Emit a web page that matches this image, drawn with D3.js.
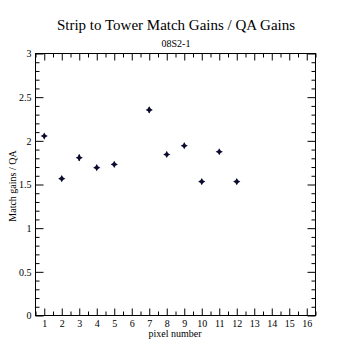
<!DOCTYPE html>
<html><head><meta charset="utf-8">
<script src="https://cdn.jsdelivr.net/npm/d3@7"></script>
<style>body{margin:0;background:#fff}svg{display:block}text{font-family:'Liberation Serif','Times New Roman','DejaVu Serif',serif}</style>
</head><body>
<svg id="c" width="350" height="350"></svg>
<script>
const pixels = [1,2,3,4,5,7,8,9,10,11,12];
const values = [2.055,1.567,1.807,1.693,1.730,2.354,1.844,1.944,1.533,1.875,1.533];
const errors = [0.01,0.01,0.035,0.01,0.01,0.03,0.01,0.01,0.01,0.01,0.01];
const xTicks = d3.range(1,17);
const yTicks = [0,0.5,1,1.5,2,2.5,3];
const yTickLabels = ["0","0.5","1","1.5","2","2.5","3"];
const title = "Strip to Tower Match Gains / QA Gains";
const subtitle = "08S2-1";
const xTitle = "pixel number";
const yTitle = "Match gains / QA";

const W=350,H=350, L=35.5, R=315.5, T=53.5, B=315.5;
const svg=d3.select("#c");
const font="'Liberation Serif','Times New Roman','DejaVu Serif',serif";
const x=d3.scaleLinear().domain([0.5,16.5]).range([L,R]);
const y=d3.scaleLinear().domain([0,3]).range([B,T]);

function styleAxis(g){g.select(".domain").remove();g.selectAll("line").attr("stroke","#000");g.selectAll("text").attr("font-family",font).attr("font-size",10).attr("fill","#000");}
const xMinor=d3.range(0.5,16.6,0.5).filter(v=>Math.abs(v-Math.round(v))>0.01);
const yMinor=d3.range(0,3.001,0.1).map(v=>+v.toFixed(2)).filter(v=>Math.abs(v*2-Math.round(v*2))>0.01);

svg.append("g").attr("transform",`translate(0,${B})`).call(d3.axisBottom(x).tickValues(xTicks).tickSize(-7).tickPadding(4).tickFormat(d3.format("d"))).call(styleAxis);
svg.append("g").attr("transform",`translate(0,${B})`).call(d3.axisBottom(x).tickValues(xMinor).tickSize(-4).tickFormat("")).call(styleAxis);
svg.append("g").attr("transform",`translate(0,${T})`).call(d3.axisTop(x).tickValues(xTicks).tickSize(-7).tickFormat("")).call(styleAxis);
svg.append("g").attr("transform",`translate(0,${T})`).call(d3.axisTop(x).tickValues(xMinor).tickSize(-4).tickFormat("")).call(styleAxis);
svg.append("g").attr("transform",`translate(${L},0)`).call(d3.axisLeft(y).tickValues(yTicks).tickSize(-8).tickPadding(4).tickFormat((d,i)=>yTickLabels[i])).call(styleAxis);
svg.append("g").attr("transform",`translate(${L},0)`).call(d3.axisLeft(y).tickValues(yMinor).tickSize(-4).tickFormat("")).call(styleAxis);
svg.append("g").attr("transform",`translate(${R},0)`).call(d3.axisRight(y).tickValues(yTicks).tickSize(-8).tickFormat("")).call(styleAxis);
svg.append("g").attr("transform",`translate(${R},0)`).call(d3.axisRight(y).tickValues(yMinor).tickSize(-4).tickFormat("")).call(styleAxis);

svg.append("rect").attr("x",L).attr("y",T).attr("width",R-L).attr("height",B-T).attr("fill","none").attr("stroke","#000").attr("stroke-width",1);

svg.append("g").selectAll("line").data(pixels).join("line")
  .attr("x1",(d)=>x(d)).attr("x2",(d)=>x(d))
  .attr("y1",(d,i)=>y(values[i]-errors[i])).attr("y2",(d,i)=>y(values[i]+errors[i]))
  .attr("stroke","#0b0b30").attr("stroke-width",1.6);
const star="M0,-3.6L1.3,-1.3L3.6,0L1.3,1.3L0,3.6L-1.3,1.3L-3.6,0L-1.3,-1.3Z";
svg.append("g").selectAll("path").data(pixels).join("path")
  .attr("d",star).attr("transform",(d,i)=>`translate(${x(d)},${y(values[i])})`)
  .attr("fill","#0b0b30");

svg.append("text").attr("x",176).attr("y",30).attr("text-anchor","middle").attr("font-family",font).attr("font-size",15).text(title);
svg.append("text").attr("x",176).attr("y",47).attr("text-anchor","middle").attr("font-family",font).attr("font-size",10).text(subtitle);
svg.append("text").attr("x",175).attr("y",337).attr("text-anchor","middle").attr("font-family",font).attr("font-size",10).text(xTitle);
svg.append("text").attr("transform","translate(16,186) rotate(-90)").attr("text-anchor","middle").attr("font-family",font).attr("font-size",10).text(yTitle);
</script>
</body></html>
